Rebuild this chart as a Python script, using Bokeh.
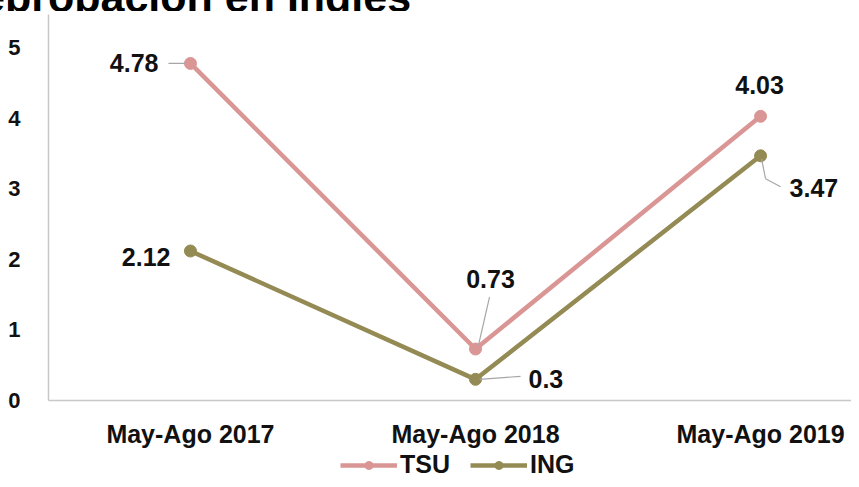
from bokeh.plotting import figure
from bokeh.layouts import column
from bokeh.models import Range1d, FixedTicker, Label, Legend, LegendItem, ColumnDataSource, Div
from bokeh.embed import file_html
from bokeh.resources import INLINE

title = "Reprobación en Inglés"
categories = ["May-Ago 2017", "May-Ago 2018", "May-Ago 2019"]
series_names = ["TSU", "ING"]
tsu = [4.78, 0.73, 4.03]
ing = [2.12, 0.3, 3.47]
y_ticks = [0, 1, 2, 3, 4, 5]

PINK = "#D99694"
OLIVE = "#948A54"
FONT = "Liberation Sans"

xs = list(range(len(categories)))

# title strip (the source image shows only the lower edge of the title)
top = Div(text=(f'<div style="margin-left:-50px;margin-top:-37px;font-family:\'{FONT}\';'
                f'font-weight:bold;font-size:43px;line-height:43px;white-space:nowrap;color:#000">'
                f'{title}</div>'),
          width=851, height=11, margin=0,
          styles={"overflow": "hidden", "height": "11px"})

p = figure(width=851, height=439, output_backend="svg", toolbar_location=None,
           x_range=Range1d(-0.498, 2.319), y_range=Range1d(0, 5.474),
           min_border_left=48, min_border_right=0, min_border_top=3, min_border_bottom=49)
p.outline_line_color = None
p.xgrid.visible = False
p.ygrid.visible = False
p.background_fill_color = "white"
p.border_fill_color = "white"

# axes
p.xaxis.ticker = FixedTicker(ticks=xs)
p.xaxis.major_label_overrides = {i: c for i, c in enumerate(categories)}
p.yaxis.ticker = FixedTicker(ticks=y_ticks)
for ax in (p.xaxis, p.yaxis):
    ax.axis_line_color = "#C8C8C8"
    ax.axis_line_width = 1.5
    ax.major_tick_line_color = None
    ax.minor_tick_line_color = None
    ax.major_label_text_font = FONT
    ax.major_label_text_font_style = "bold"
    ax.major_label_text_color = "#111111"
p.xaxis.major_label_text_font_size = "25px"
p.xaxis.major_label_standoff = 13
p.yaxis.major_label_text_font_size = "22px"
p.yaxis.major_label_standoff = 22

src_t = ColumnDataSource(dict(x=xs, y=tsu))
src_i = ColumnDataSource(dict(x=xs, y=ing))
sources = [src_t, src_i]
colors = [PINK, OLIVE]

for src, color in zip(sources, colors):
    p.line("x", "y", source=src, line_color=color, line_width=4.5)
    p.scatter("x", "y", source=src, size=12, fill_color=color, line_color=color)

# data labels: (series values, index, x_offset, y_offset, align, leader segments in px)
PXX = 285.0
PXY = 70.7
label_specs = [
    (tsu, 0, -32, 0, "right", [(-5, 0, -22, 0)]),
    (ing, 0, -20, -6, "right", []),
    (tsu, 1, 15, 70, "center", [(3, 4, 14, 52)]),
    (ing, 1, 53, 0, "left", [(4, 0, 45, 3)]),
    (tsu, 2, -1, 31, "center", []),
    (ing, 2, 29, -32, "left", [(1, -3, 5, -23), (5, -23, 20, -31)]),
]
for series, i, dx, dy, align, leaders in label_specs:
    v = series[i]
    p.add_layout(Label(x=xs[i], y=v, x_offset=dx, y_offset=dy, text=f"{v:g}",
                       text_font=FONT, text_font_style="bold", text_font_size="25px",
                       text_color="#111111", text_align=align, text_baseline="middle"))
    for (x0, y0, x1, y1) in leaders:
        p.segment(x0=[xs[i] + x0 / PXX], y0=[v + y0 / PXY], x1=[xs[i] + x1 / PXX], y1=[v + y1 / PXY],
                  line_color="#A6A6A6", line_width=1.2)

# legend strip below the chart (its renderers sit outside the strip's visible range)
lg = figure(width=851, height=29, output_backend="svg", toolbar_location=None,
            x_range=Range1d(0, 1), y_range=Range1d(100, 101),
            min_border=0, min_border_left=48, min_border_right=0,
            min_border_top=0, min_border_bottom=0)
lg.axis.visible = False
lg.grid.visible = False
lg.outline_line_color = None
lg.border_fill_color = "white"
lg.background_fill_color = "white"
items = []
for name, src, color in zip(series_names, sources, colors):
    r1 = lg.line("x", "y", source=src, line_color=color, line_width=4.5)
    r2 = lg.scatter("x", "y", source=src, size=12, fill_color=color, line_color=color)
    items.append(LegendItem(label=name, renderers=[r1, r2]))
legend = Legend(items=items, orientation="horizontal", location=(292, 0),
                label_text_font=FONT, label_text_font_style="bold", label_text_font_size="25px",
                label_text_color="#111111", glyph_width=57, glyph_height=20,
                label_standoff=3, spacing=20, padding=0, margin=0,
                border_line_color=None, background_fill_alpha=0)
lg.add_layout(legend, "center")

layout = column(top, p, lg, spacing=0)
open("out.html", "w").write(file_html(layout, INLINE))
